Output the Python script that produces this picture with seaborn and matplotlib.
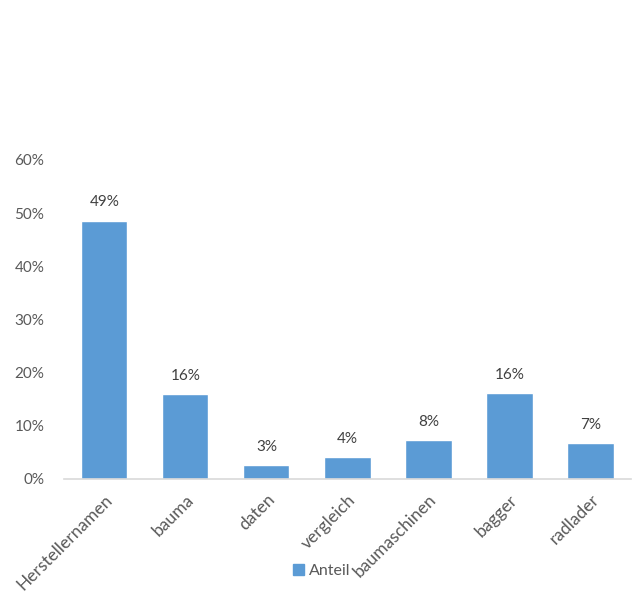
import matplotlib
matplotlib.use("Agg")
import matplotlib.pyplot as plt
import seaborn as sns
import pandas as pd
from matplotlib.ticker import PercentFormatter, MultipleLocator

categories = ["Herstellernamen", "bauma", "daten", "vergleich", "baumaschinen", "bagger", "radlader"]
values = [0.486, 0.160, 0.026, 0.042, 0.074, 0.162, 0.068]
labels = ["49%", "16%", "3%", "4%", "8%", "16%", "7%"]
series_name = "Anteil"

sns.set_theme(style="white")
plt.rcParams['font.family'] = ['Lato', 'DejaVu Sans']

df = pd.DataFrame({"Kategorie": categories, "Wert": values, "Serie": series_name})

fig = plt.figure(figsize=(6.44, 6.01), dpi=100)
ax = fig.add_axes([0.099, 0.203, 0.881, 0.531])
color = "#5B9BD5"
sns.barplot(data=df, x="Kategorie", y="Wert", hue="Serie", palette=[color],
            width=0.57, ax=ax, legend=False, saturation=1)

ax.set_ylim(0, 0.6)
ax.yaxis.set_major_locator(MultipleLocator(0.1))
ax.yaxis.set_major_formatter(PercentFormatter(1.0, decimals=0))
ax.set_xlim(-0.5, len(categories) - 0.5)
ax.set_xlabel("")
ax.set_ylabel("")

for s in ["top", "right", "left"]:
    ax.spines[s].set_visible(False)
ax.spines["bottom"].set_color("#D9D9D9")
ax.spines["bottom"].set_linewidth(1.2)
ax.tick_params(axis="both", length=0, colors="#595959", labelsize=11)
ax.tick_params(axis="y", pad=14)
ax.set_xticks(range(len(categories)))
ax.set_xticklabels(categories, rotation=45, ha="right", rotation_mode="anchor",
                   fontsize=12.5)
ax.tick_params(axis="x", pad=9)

for cont in ax.containers:
    ax.bar_label(cont, labels=labels, padding=8, fontsize=11, color="#404040")

handle = plt.Rectangle((0, 0), 1, 1, color=color)
fig.legend([handle], [series_name], loc="center", bbox_to_anchor=(0.5, 0.05),
           frameon=False, fontsize=11.5, handlelength=0.7, handleheight=0.7,
           handletextpad=0.3, labelcolor="#595959")

fig.savefig("out.png", dpi=100)
